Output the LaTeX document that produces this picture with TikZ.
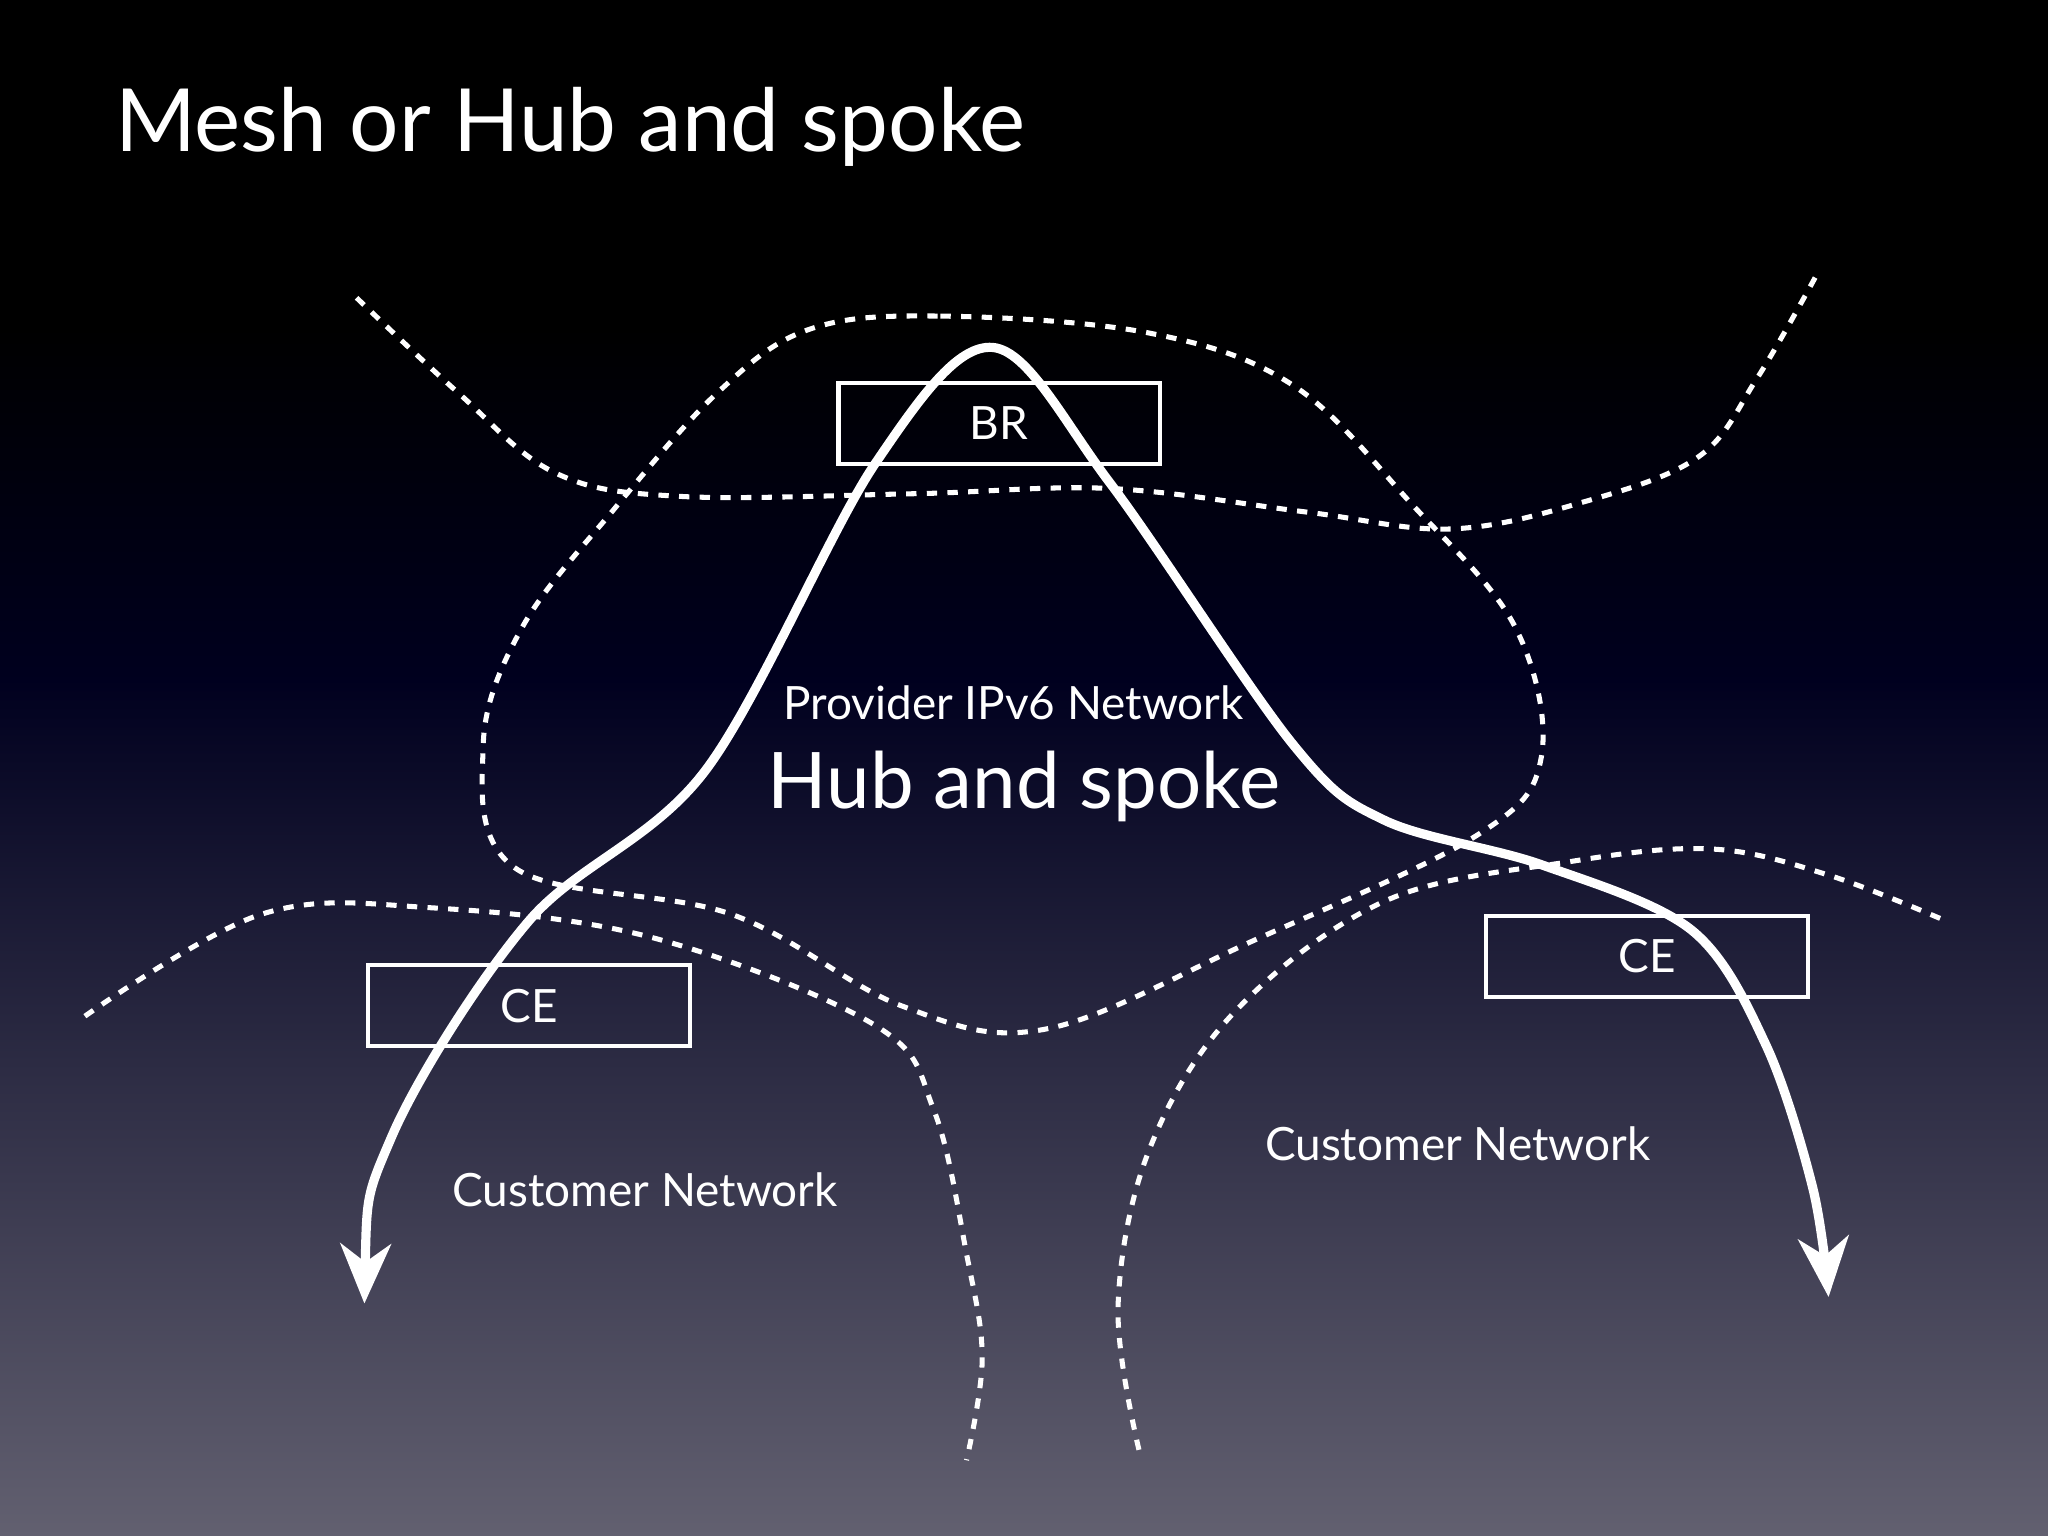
\documentclass[tikz,border=0pt]{standalone}
\usepackage{fontspec}
\setmainfont{Lato}
\usetikzlibrary{arrows.meta}
\begin{document}
\begin{tikzpicture}[x=0.02cm,y=-0.02cm,
  dotline/.style={white,line width=2.2pt,dash pattern=on 4.5pt off 4.5pt},
  box/.style={draw=white,line width=1.8pt,minimum width=246*0.02cm,minimum height=62*0.02cm,inner sep=0pt},
  lbl/.style={text=white,font=\fontsize{20}{22}\selectfont},
  flow/.style={white,line width=4pt,line cap=round}]
\useasboundingbox (0,0) rectangle (1568,1176);
\shade[top color=black,bottom color=black] (0,0) rectangle (1568,250);
\shade[top color=black,bottom color=black!60!blue!30!black] (0,250) rectangle (1568,520);
\shade[top color=black!60!blue!30!black,bottom color={rgb,255:red,98;green,96;blue,112}] (0,519) rectangle (1568,1176);
\node[anchor=base west,text=white,font=\fontsize{38}{42}\selectfont] (title) at (82,116) {Mesh or Hub and spoke};
% dotted boundaries
\draw[dotline] plot[smooth,tension=0.6] coordinates {(273,228) (350,300) (425,362) (520,380) (700,378) (850,374) (1000,392) (1110,405) (1210,385) (1300,350) (1345,290) (1390,212)};
\draw[dotline] plot[smooth cycle,tension=0.6] coordinates {(620,252) (720,242) (880,255) (990,295) (1080,385) (1160,480) (1180,580) (1130,640) (960,720) (800,788) (690,770) (560,700) (395,665) (370,570) (400,480) (470,390) (550,300)};
\draw[dotline] plot[smooth,tension=0.6] coordinates {(65,778) (200,700) (330,695) (500,718) (670,785) (715,850) (740,960) (752,1040) (740,1118)};
\draw[dotline] plot[smooth,tension=0.6] coordinates {(872,1110) (856,1000) (880,880) (945,775) (1060,690) (1200,660) (1310,650) (1400,670) (1492,706)};
% boxes
\node[box] (br) at (765,324) {};
\node[box] (ce1) at (405,770) {};
\node[box] (ce2) at (1261,732) {};
\node[lbl] at (br) {BR};
\node[lbl] at (ce1) {CE};
\node[lbl] at (ce2) {CE};
\node[lbl] (prov) at (776,538) {Provider IPv6 Network};
\node[text=white,font=\fontsize{34}{38}\selectfont] (hub) at (784,602) {Hub and spoke};
\node[lbl] (cn1) at (494,911) {Customer Network};
\node[lbl] (cn2) at (1116,876) {Customer Network};
% flow
\coordinate (s) at (279,998);
\coordinate (e) at (1400,993);
\draw[flow,{Stealth[length=26pt,width=22pt,inset=8pt]}-{Stealth[length=26pt,width=22pt,inset=8pt]}] plot[smooth,tension=0.55] coordinates {(279,998) (300,870) (405,705) (540,590) (670,355) (760,266) (850,370) (990,570) (1060,628) (1180,662) (1295,712) (1352,800) (1388,910) (1400,993)};
\end{tikzpicture}
\end{document}
